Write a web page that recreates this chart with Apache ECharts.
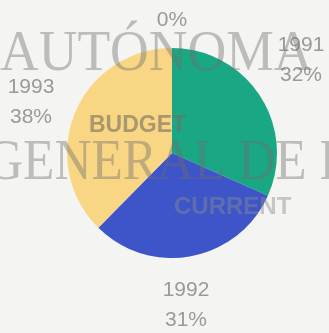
<!DOCTYPE html>
<html>
<head>
<meta charset="utf-8">
<script src="https://cdn.jsdelivr.net/npm/echarts@6/dist/echarts.min.js"></script>
<style>
  html, body { margin: 0; padding: 0; background: #f4f4f2; }
  #chart { width: 329px; height: 333px; }
</style>
</head>
<body>
<div id="chart"></div>
<script>
// Budget share by year (percent)
const years = ['1991', '1992', '1993'];
const shares = [32, 31, 38];
const sliceColors = ['#1aa784', '#3d55c9', '#f8d683'];
// Label anchor points for each year label and the empty-share label
const labelSpots = { '1991': [301, 60], '1992': [186, 305], '1993': [31, 102], '': [172, 20] };

const pieData = [{ name: '', value: 0, itemStyle: { color: 'transparent' } }].concat(
  years.map((y, i) => ({ name: y, value: shares[i], itemStyle: { color: sliceColors[i] } }))
);

const chart = echarts.init(document.getElementById('chart'), null, { renderer: 'canvas' });
chart.setOption({
  backgroundColor: '#f4f4f2',
  animation: false,
  series: [{
    type: 'pie',
    center: [172, 153],
    radius: [0, 105],
    startAngle: 90,
    clockwise: true,
    minAngle: 0,
    avoidLabelOverlap: false,
    data: pieData,
    label: {
      show: true,
      position: 'outside',
      formatter: p => (p.name ? p.name + '\n' : '') + p.value + '%',
      color: '#9a9a9a',
      fontFamily: 'Liberation Sans, Arial, sans-serif',
      fontSize: 21,
      lineHeight: 30,
      align: 'center'
    },
    labelLine: { show: false },
    labelLayout: function (params) {
      const name = pieData[params.dataIndex].name;
      const pos = labelSpots[name];
      return { x: pos[0], y: pos[1], align: 'center', verticalAlign: 'middle' };
    },
    emphasis: { disabled: true }
  }],
  graphic: [
    {
      type: 'text', left: 89, top: 114, z: 50,
      style: { text: 'BUDGET', fill: 'rgba(115,110,95,0.6)', font: 'bold 23px "Liberation Sans", Arial, sans-serif' }
    },
    {
      type: 'text', left: 174, top: 195, z: 50,
      style: { text: 'CURRENT', fill: 'rgba(140,140,140,0.45)', font: 'bold 24px "Liberation Sans", Arial, sans-serif' }
    },
    {
      type: 'text', x: 0, y: 84, z: 60,
      style: { text: 'AUTÓNOMA', fill: 'rgba(110,110,110,0.42)', font: '57px "Liberation Serif", "Times New Roman", serif', textVerticalAlign: 'bottom' },
      scaleX: 0.94
    },
    {
      type: 'text', x: -14, y: 193, z: 60,
      style: { text: 'GENERAL DE B', fill: 'rgba(110,110,110,0.42)', font: '57px "Liberation Serif", "Times New Roman", serif', textVerticalAlign: 'bottom' },
      scaleX: 0.9
    }
  ]
});
</script>
</body>
</html>
